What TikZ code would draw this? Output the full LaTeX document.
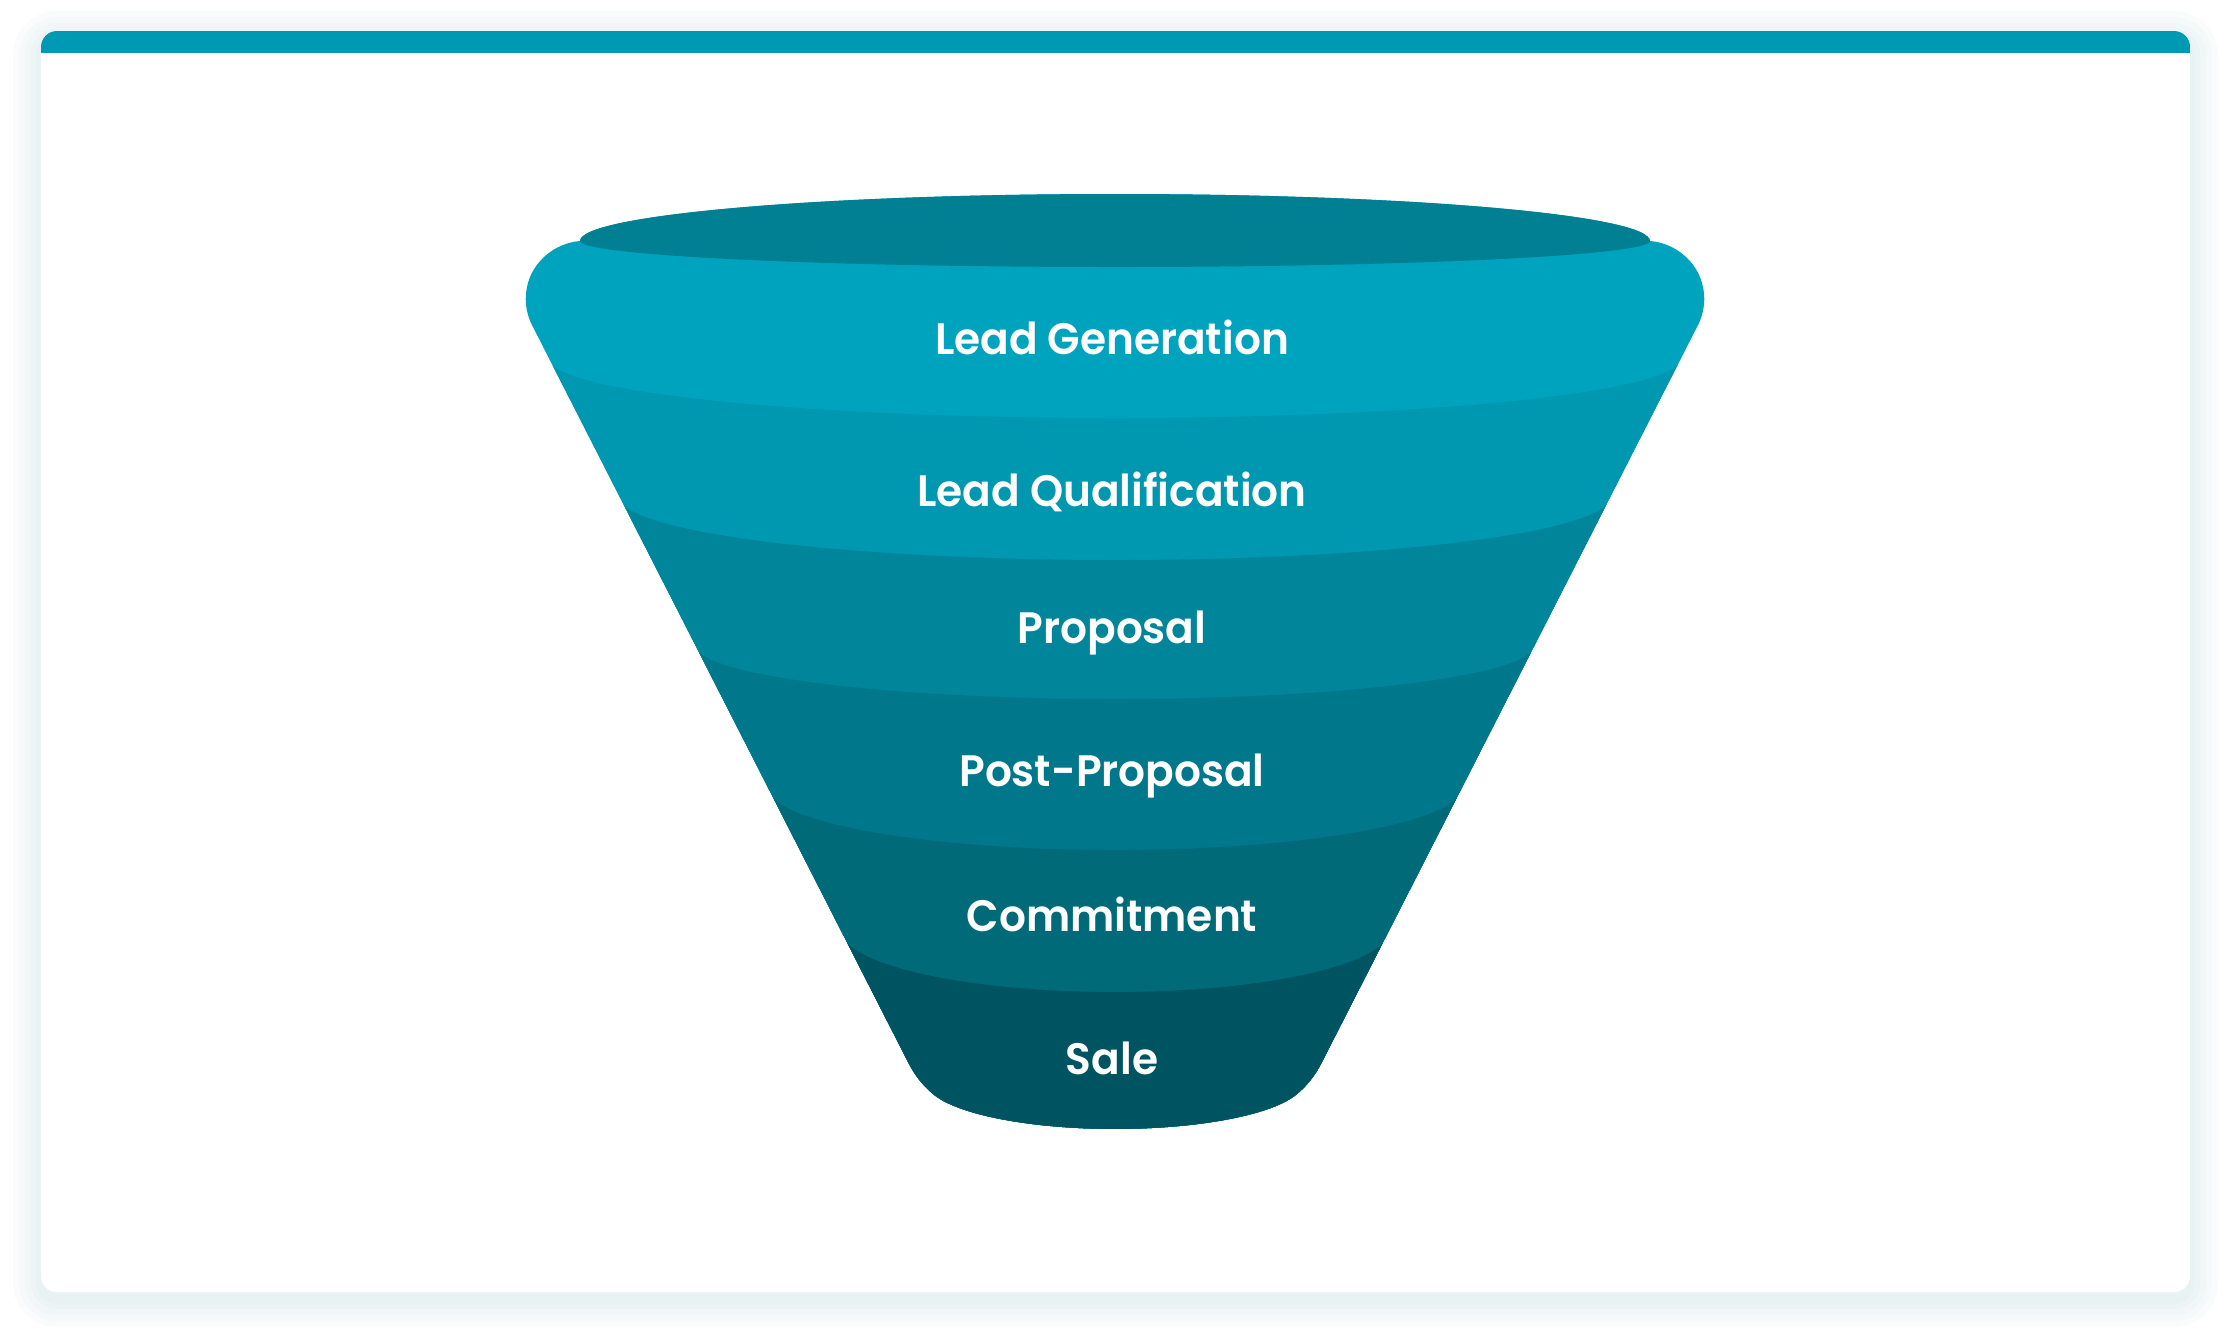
\documentclass[tikz,border=0pt]{standalone}
\usepackage{fontspec}
\newfontfamily\labfont{Poppins}[UprightFont={* SemiBold},FakeStretch=0.96]
\definecolor{ctop}{HTML}{017F93}
\definecolor{cA}{HTML}{00A3BE}
\definecolor{cB}{HTML}{0097B0}
\definecolor{cC}{HTML}{00859A}
\definecolor{cD}{HTML}{00778A}
\definecolor{cE}{HTML}{006A79}
\definecolor{cF}{HTML}{005461}
\definecolor{barc}{HTML}{0099B3}
\definecolor{shadowc}{HTML}{CFE5E7}
\begin{document}
\begin{tikzpicture}[x=0.5pt,y=-0.5pt,
  lab/.style={text=white,font=\labfont\fontsize{22}{26}\selectfont,inner sep=0pt,anchor=base},
  cardshape/.style={rounded corners=8pt}]
\useasboundingbox (0,0) rectangle (2232,1340);
\fill[white] (0,0) rectangle (2232,1340);
% card shadow
\foreach \w in {28,22,16,10,5}{
  \draw[draw=shadowc,opacity=0.1,line width=\w pt,cardshape] (41,39) rectangle (2190,1299);
}
% card
\begin{scope}
  \clip[cardshape] (41,31) rectangle (2190,1292);
  \fill[white] (41,31) rectangle (2190,1292);
  \fill[barc] (41,31) rectangle (2190,53);
\end{scope}
% funnel
\begin{scope}
  \clip (580,241) arc[start angle=180,end angle=360,x radius=535,y radius=47]
    .. controls (1675,243) and (1696,261) .. (1702,283)
    .. controls (1706,297) and (1705,312) .. (1697,327)
    -- (1324,1058)
    .. controls (1317,1072) and (1311,1082) .. (1297,1094)
    arc[start angle=16.7,end angle=163.3,x radius=190,y radius=49]
    .. controls (919,1082) and (913,1072) .. (906,1058)
    -- (533,327)
    .. controls (525,312) and (524,297) .. (528,283)
    .. controls (534,261) and (555,243) .. (580,241) -- cycle;
  \fill[cA] (0,0) rectangle (2232,1340);
  \fill[ctop] (580,241) arc[start angle=180,end angle=360,x radius=535,y radius=47]
    arc[start angle=0,end angle=180,x radius=535,y radius=26] -- cycle;
  \fill[cB] (0,359) -- (549.4,359) arc[start angle=180,end angle=0,x radius=565.6,y radius=59] -- (2232,359) -- (2232,1340) -- (0,1340) -- cycle;
  \fill[cC] (0,497) -- (619.8,497) arc[start angle=180,end angle=0,x radius=495.2,y radius=63] -- (2232,497) -- (2232,1340) -- (0,1340) -- cycle;
  \fill[cD] (0,645) -- (695.3,645) arc[start angle=180,end angle=0,x radius=419.7,y radius=54] -- (2232,645) -- (2232,1340) -- (0,1340) -- cycle;
  \fill[cE] (0,787) -- (767.7,787) arc[start angle=180,end angle=0,x radius=347.3,y radius=63] -- (2232,787) -- (2232,1340) -- (0,1340) -- cycle;
  \fill[cF] (0,929) -- (840.1,929) arc[start angle=180,end angle=0,x radius=274.9,y radius=63] -- (2232,929) -- (2232,1340) -- (0,1340) -- cycle;
\end{scope}
% labels
\node[lab] (lg) at (1112,354) {Lead Generation};
\node[lab] (lq) at (1112,506) {Lead Qualification};
\node[lab] (pr) at (1112,643) {Proposal};
\node[lab] (pp) at (1112,786) {Post-Proposal};
\node[lab] (co) at (1112,931) {Commitment};
\node[lab] (sa) at (1112,1074) {Sale};
\end{tikzpicture}
\end{document}
